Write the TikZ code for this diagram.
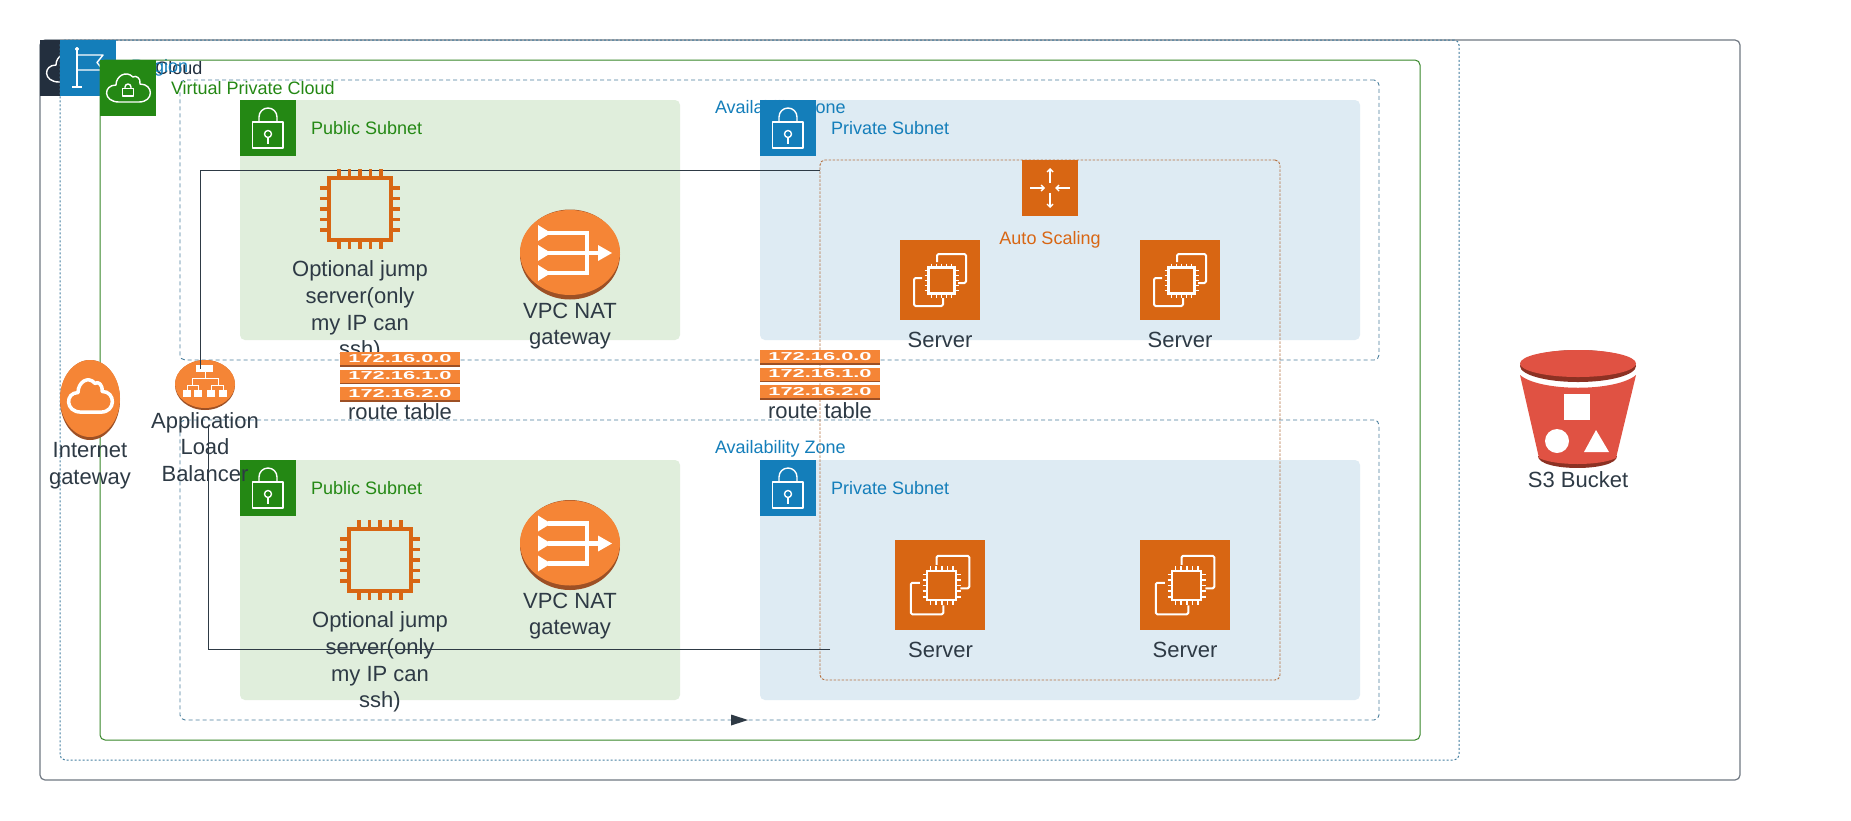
\documentclass[tikz,border=0pt]{standalone}
\usepackage{fontspec}
\usepackage{graphicx}
\setmainfont{Liberation Sans}
\usetikzlibrary{shapes.geometric,arrows.meta}
\definecolor{ink}{HTML}{2E3A45}
\definecolor{navy}{HTML}{232F3E}
\definecolor{awsblue}{HTML}{147EBA}
\definecolor{awsgreen}{HTML}{248814}
\definecolor{awsorange}{HTML}{D86613}
\definecolor{paleorange}{HTML}{F58536}
\definecolor{shadeorange}{HTML}{9D5025}
\definecolor{greenfill}{HTML}{E0EEDC}
\definecolor{bluefill}{HTML}{DEEBF3}
\definecolor{s3red}{HTML}{E05243}
\definecolor{s3dark}{HTML}{8C3123}
\tikzset{
  area/.style={rectangle,inner sep=0pt,outer sep=0pt,rounded corners=5pt},
  sqchip/.style={rectangle,inner sep=0pt,outer sep=0pt,minimum width=56pt,minimum height=56pt,anchor=north west},
  bigtxt/.style={inner sep=0pt,outer sep=0pt,font=\fontsize{22}{26.7}\selectfont,text=ink,align=center},
  smalltxt/.style={inner sep=0pt,outer sep=0pt,font=\fontsize{18}{22}\selectfont,anchor=west},
  link/.style={draw=ink,line width=1pt},
  whiteline/.style={draw=white,line width=1.4pt,line join=round},
  cloudpic/.pic={
    \path[draw=white,line join=round,pic actions]
      (-9,14) .. controls (-25,14) and (-25,-3) .. (-12,-3)
      .. controls (-12,-12) and (-2,-18) .. (5,-11)
      .. controls (8,-13) and (13,-10) .. (12,-4)
      .. controls (26,-4) and (26,14) .. (11,14) -- cycle;
  },
  lockpic/.pic={
    \draw[whiteline] (12.5,22) rectangle (43,48);
    \draw[whiteline] (19,22) -- (19,17) arc[start angle=180,end angle=360,radius=9] -- (37,22);
    \draw[whiteline] (28,34) circle[radius=3.5];
    \draw[whiteline] (28,37.5) -- (28,44);
  },
  chippic/.pic={
    \draw[draw=awsorange,line width=3.8pt] (-31,-31) rectangle (31,31);
    \foreach \d in {-21,-10.5,0,10.5,21}{
      \draw[draw=awsorange,line width=3.3pt] (\d,-40) -- (\d,-31) (\d,31) -- (\d,40) (-40,\d) -- (-31,\d) (31,\d) -- (40,\d);
    }
  },
  serverpic/.pic={
    \draw[draw=white,line width=2pt,line join=round,rounded corners=1.5pt] (37,22) -- (37,14) -- (66,14) -- (66,43) -- (58,43);
    \draw[draw=white,line width=2pt,line join=round,rounded corners=1.5pt] (22,38) -- (14,38) -- (14,66) -- (43,66) -- (43,58);
    \draw[draw=white,line width=2.2pt] (28.5,27.5) rectangle (54.5,53.5);
    \foreach \d in {-10,-5,0,5,10}{
      \draw[draw=white,line width=1.6pt] (41.5+\d,23.5) -- (41.5+\d,28) (41.5+\d,53) -- (41.5+\d,57.5)
        (24.5,40.5+\d) -- (29,40.5+\d) (54,40.5+\d) -- (58.5,40.5+\d);
    }
  },
  natpic/.pic={
    \fill[white] (-32,-29) -- (-19,-21) -- (-32,-13) -- cycle;
    \fill[white] (-32,-9) -- (-19,-1) -- (-32,7) -- cycle;
    \fill[white] (-32,11) -- (-19,19) -- (-32,27) -- cycle;
    \draw[draw=white,line width=4.6pt,line join=miter] (-22,-21) -- (17,-21) -- (17,19) -- (-22,19);
    \draw[draw=white,line width=4.6pt] (-22,-1) -- (29,-1);
    \fill[white] (28,-9) -- (42,-1) -- (28,7) -- cycle;
  },
  routepic/.pic={
    \foreach \y/\t in {0/172.16.0.0,17.5/172.16.1.0,35/172.16.2.0}{
      \fill[paleorange] (0,\y) rectangle (120,\y+14.5);
      \fill[shadeorange] (0,\y+13) rectangle (120,\y+14.8);
      \node[inner sep=0pt,text=white] at (60,\y+6.5) {\scalebox{1.9}[1]{\fontsize{11.5}{12}\selectfont\bfseries\t}};
    }
  }
}
\begin{document}
\begin{tikzpicture}[x=1pt,y=-1pt]
\useasboundingbox (0,0) rectangle (1851,820);
\fill[white] (0,0) rectangle (1851,820);

% containers
\node[area,draw=navy!65,line width=1.2pt,minimum width=1700pt,minimum height=740pt] (outer) at (890,410) {};
\node[sqchip,fill=navy] (awschip) at (40,40) {};
\path (68,68) pic[line width=1.4pt] {cloudpic};
\node[smalltxt,text=navy] (awslabel) at (110,68) {AWS Cloud};
\node[area,draw=awsblue!55!gray,line width=1pt,dash pattern=on 2pt off 2pt,minimum width=1399pt,minimum height=720pt] (region) at (759.5,400) {};
\node[sqchip,fill=awsblue] (flagchip) at (60,40) {};
\draw[whiteline] (77,50) -- (77,87) (72,87) -- (82,87);
\draw[whiteline] (77,55) -- (103,55) -- (97,62.5) -- (103,70) -- (77,70);
\draw[whiteline] (77,49) circle[radius=1.4];
\node[smalltxt,text=awsblue] (regionlabel) at (131,68) {Region};
\node[area,draw=awsgreen!80!gray,line width=1pt,minimum width=1320pt,minimum height=680pt] (vpc) at (760,400) {};
\node[sqchip,fill=awsgreen] (vpcchip) at (100,60) {};
\path (128,88) pic[line width=1.4pt] {cloudpic};
\draw[whiteline] (122.5,88.5) rectangle (133.5,96);
\draw[whiteline] (125,88.5) -- (125,87) arc[start angle=180,end angle=360,radius=3] -- (131,88.5);

\node[area,draw=awsblue!50!gray,line width=0.9pt,dash pattern=on 4pt off 3pt,minimum width=1199pt,minimum height=280pt] (az1) at (779.5,220) {};
\node[area,draw=awsblue!50!gray,line width=0.9pt,dash pattern=on 4pt off 3pt,minimum width=1199pt,minimum height=300pt] (az2) at (779.5,570) {};
\node[smalltxt,text=awsgreen] (vpclabel) at (171,88) {Virtual Private Cloud};

% subnets
\node[area,fill=greenfill,minimum width=440pt,minimum height=240pt] (pub1) at (460,220) {};
\node[area,fill=greenfill,minimum width=440pt,minimum height=240pt] (pub2) at (460,580) {};
\node[area,fill=bluefill,minimum width=600pt,minimum height=240pt] (priv1) at (1060,220) {};
\node[area,fill=bluefill,minimum width=600pt,minimum height=240pt] (priv2) at (1060,580) {};
\node[smalltxt,text=awsblue] (azlabel1) at (715,108.5) {Availability Zone};
\node[smalltxt,text=awsblue] (azlabel2) at (715,448.5) {Availability Zone};
\node[sqchip,fill=awsgreen] (publock1) at (240,100) {};
\node[sqchip,fill=awsgreen] (publock2) at (240,460) {};
\node[sqchip,fill=awsblue] (privlock1) at (760,100) {};
\node[sqchip,fill=awsblue] (privlock2) at (760,460) {};
\path (240,100) pic {lockpic};
\path (240,460) pic {lockpic};
\path (760,100) pic {lockpic};
\path (760,460) pic {lockpic};
\node[smalltxt,text=awsgreen] (publabel1) at (311,128) {Public Subnet};
\node[smalltxt,text=awsgreen] (publabel2) at (311,488) {Public Subnet};
\node[smalltxt,text=awsblue] (privlabel1) at (831,128) {Private Subnet};
\node[smalltxt,text=awsblue] (privlabel2) at (831,488) {Private Subnet};

% auto scaling group
\node[area,draw=awsorange!60!gray,line width=0.9pt,dash pattern=on 2.5pt off 1.5pt,minimum width=460pt,minimum height=520pt] (asg) at (1050,420) {};
\node[sqchip,fill=awsorange] (aschip) at (1022,160) {};
\draw[draw=white,line width=1.4pt,-{Straight Barb[length=3pt,width=6pt]}] (1050,183) -- (1050,168);
\draw[draw=white,line width=1.4pt,-{Straight Barb[length=3pt,width=6pt]}] (1050,193) -- (1050,208);
\draw[draw=white,line width=1.4pt,-{Straight Barb[length=3pt,width=6pt]}] (1030,188) -- (1045,188);
\draw[draw=white,line width=1.4pt,-{Straight Barb[length=3pt,width=6pt]}] (1070,188) -- (1055,188);
\node[smalltxt,anchor=center,text=awsorange] (aslabel) at (1050,240) {Auto Scaling};

% gateways
\node[ellipse,fill=shadeorange,inner sep=0pt,minimum width=60pt,minimum height=80pt] (igw) at (90,400) {};
\fill[paleorange] (90,398.5) ellipse[x radius=30,y radius=38.5];
\path (90,396) pic[line width=3.5pt,yscale=1.15] {cloudpic};
\node[ellipse,fill=shadeorange,inner sep=0pt,minimum width=60pt,minimum height=50pt] (alb) at (205,385) {};
\fill[paleorange] (205,384) ellipse[x radius=30,y radius=24];
\fill[white] (196,365) rectangle (213,372);
\foreach \a in {183,194,207,219}{ \fill[white] (\a,390) rectangle (\a+8,397); }
\draw[draw=white,line width=1pt] (205,372) -- (205,378) (192,385) -- (192,378) -- (218,378) -- (218,385)
  (187,390) -- (187,385) -- (198,385) -- (198,390) (211,390) -- (211,385) -- (223,385) -- (223,390);

\node[ellipse,fill=shadeorange,inner sep=0pt,minimum width=100pt,minimum height=90pt] (nat1) at (570,254.5) {};
\fill[paleorange] (570,252.5) ellipse[x radius=50,y radius=42.5];
\path (570,254) pic {natpic};
\node[ellipse,fill=shadeorange,inner sep=0pt,minimum width=100pt,minimum height=90pt] (nat2) at (570,545) {};
\fill[paleorange] (570,543) ellipse[x radius=50,y radius=42.5];
\path (570,544.5) pic {natpic};

% connectors
\coordinate (asgtop) at (820,170);
\coordinate (albtop) at (200.5,369);
\coordinate (albbottom) at (208.5,427);
\coordinate (asgbottom) at (830,649);
\draw[link] (asgtop) -| (albtop);
\draw[link] (asgbottom) -| (albbottom);
\fill[ink] (731,714.5) -- (748,720) -- (731,725.5) -- cycle;

% servers and jump hosts
\path (360,209) pic {chippic};
\path (380,560) pic {chippic};
\node[rectangle,fill=awsorange,inner sep=0pt,anchor=north west,minimum width=80pt,minimum height=80pt] (srv1) at (900,240) {};
\node[rectangle,fill=awsorange,inner sep=0pt,anchor=north west,minimum width=80pt,minimum height=80pt] (srv2) at (1140,240) {};
\node[rectangle,fill=awsorange,inner sep=0pt,anchor=north west,minimum width=90pt,minimum height=90pt] (srv3) at (895,540) {};
\node[rectangle,fill=awsorange,inner sep=0pt,anchor=north west,minimum width=90pt,minimum height=90pt] (srv4) at (1140,540) {};
\path (900,240) pic {serverpic};
\path (1140,240) pic {serverpic};
\path (895,540) pic[scale=1.125] {serverpic};
\path (1140,540) pic[scale=1.125] {serverpic};

% S3 bucket
\fill[s3dark] (1538,456) -- (1617,456) .. controls (1617,472) and (1538,472) .. (1538,456) -- cycle;
\fill[s3red] (1520,375) .. controls (1540,392) and (1616,392) .. (1636,375) -- (1616,458) .. controls (1600,466) and (1555,466) .. (1539,458) -- cycle;
\node[ellipse,fill=s3dark,inner sep=0pt,minimum width=116pt,minimum height=32pt] (bucket) at (1578,366) {};
\fill[s3red] (1578,363.5) ellipse[x radius=58,y radius=13.5];
\fill[white] (1564,394) rectangle (1590,420);
\fill[white] (1557,441) circle[radius=12];
\fill[white] (1596,430) -- (1609,452) -- (1584,452) -- cycle;

% labels
\node[bigtxt] (jump1) at (360,311) {Optional jump\\server(only\\my IP can\\ssh)};
\node[bigtxt] (jump2) at (380,662) {Optional jump\\server(only\\my IP can\\ssh)};
\node[bigtxt] (natlabel1) at (570,326) {VPC NAT\\gateway};
\node[bigtxt] (natlabel2) at (570,616) {VPC NAT\\gateway};
\node[bigtxt] (igwlabel) at (90,466) {Internet\\gateway};
\node[bigtxt] (alblabel) at (205,447) {Application\\Load\\Balancer};
\node[bigtxt] (srvlabel1) at (940,339.5) {Server};
\node[bigtxt] (srvlabel2) at (1180,339.5) {Server};
\node[bigtxt] (srvlabel3) at (940.5,650) {Server};
\node[bigtxt] (srvlabel4) at (1185,650) {Server};
\node[bigtxt] (s3label) at (1578,480) {S3 Bucket};

% route tables
\path (340,352) pic {routepic};
\path (760,350) pic {routepic};
\node[bigtxt] (routelabel1) at (400,412) {route table};
\node[bigtxt] (routelabel2) at (820,411) {route table};
\end{tikzpicture}
\end{document}
